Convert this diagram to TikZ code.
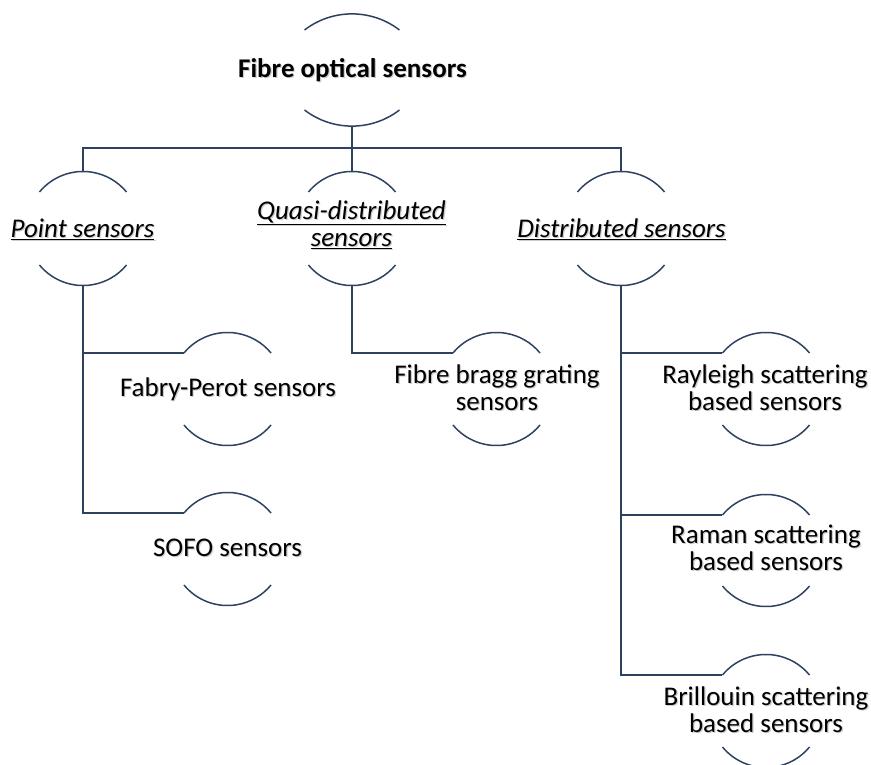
\documentclass[tikz,border=0pt]{standalone}
\usepackage{fontspec}
\setmainfont{Carlito}
\usetikzlibrary{calc}
\definecolor{lc}{HTML}{2E4260}
\tikzset{
  conn/.style={draw=lc, line width=1.5pt},
  arcline/.style={draw=lc, line width=1.5pt},
  lbl/.style={align=center, font=\fontsize{27}{27}\selectfont, inner sep=0pt}
}
\newcommand\shtxt[1]{\makebox[0pt][l]{\kern1.2pt\raisebox{-1.2pt}{\textcolor{black!20}{#1}}}#1}
% name, cx, top endpoint y, bottom endpoint y, radius, half angle
\newcommand\arcpair[6]{%
  \pgfmathsetmacro\hwv{#5*sin(#6)}%
  \pgfmathsetmacro\hhv{#5*(1-cos(#6))}%
  \coordinate (#1-L) at ({#2-\hwv},#3);
  \coordinate (#1-T) at (#2,{#3+\hhv});
  \coordinate (#1-B) at (#2,{#4-\hhv});
  \draw[arcline] (#1-L) arc[start angle={90+#6}, end angle={90-#6}, radius=#5pt];
  \draw[arcline] ({#2-\hwv},#4) arc[start angle={270-#6}, end angle={270+#6}, radius=#5pt];
}
\begin{document}
\begin{tikzpicture}[x=1pt,y=1pt]
\path[use as bounding box] (0,0) rectangle (871,-765);

% arcs
\arcpair{root}{352}{-30}{-110}{78}{37.5}
\arcpair{pt}{83}{-192}{-265}{56.4}{50.5}
\arcpair{qd}{352}{-192}{-265}{56.4}{50.5}
\arcpair{ds}{621}{-192}{-265}{56.4}{50.5}
\arcpair{fp}{227.5}{-353}{-425}{56.4}{50.5}
\arcpair{sofo}{227.5}{-513}{-585}{56.4}{50.5}
\arcpair{fbg}{496.5}{-353}{-425}{56.4}{50.5}
\arcpair{ray}{766}{-353}{-425}{56.4}{50.5}
\arcpair{ram}{766}{-515}{-586}{56.4}{50.5}
\arcpair{bri}{766}{-675}{-747}{56.4}{50.5}

% connectors
\coordinate (bus) at (352,-148);
\draw[conn] (root-B) -- (root-B |- bus) -| (pt-T);
\draw[conn] (root-B) -- (qd-T);
\draw[conn] (root-B |- bus) -| (ds-T);
\draw[conn] (pt-B) |- (fp-L);
\draw[conn] (pt-B) |- (sofo-L);
\draw[conn] (qd-B) |- (fbg-L);
\draw[conn] (ds-B) |- (ray-L);
\draw[conn] (ds-B) |- (ram-L);
\draw[conn] (ds-B) |- (bri-L);

% labels
\node[lbl] (rootT) at (352.5,-71) {\shtxt{\textbf{Fibre optical sensors}}};
\node[lbl] (ptT) at (82.5,-230) {\shtxt{\textit{\underline{Point sensors}}}};
\node[lbl] (qdT) at (351.5,-225) {\shtxt{\textit{\underline{Quasi-distributed}}}\\\shtxt{\textit{\underline{sensors}}}};
\node[lbl] (dsT) at (621.5,-230) {\shtxt{\textit{\underline{Distributed sensors}}}};
\node[lbl] (fpT) at (228,-389.5) {\shtxt{Fabry-Perot sensors}};
\node[lbl] (sofoT) at (227.5,-548) {\shtxt{SOFO sensors}};
\node[lbl] (fbgT) at (497,-388) {\shtxt{Fibre bragg grating}\\\shtxt{sensors}};
\node[lbl] (rayT) at (765,-388) {\shtxt{Rayleigh scattering}\\\shtxt{based sensors}};
\node[lbl] (ramT) at (766,-548) {\shtxt{Raman scattering}\\\shtxt{based sensors}};
\node[lbl] (briT) at (766,-710.5) {\shtxt{Brillouin scattering}\\\shtxt{based sensors}};
\end{tikzpicture}
\end{document}
